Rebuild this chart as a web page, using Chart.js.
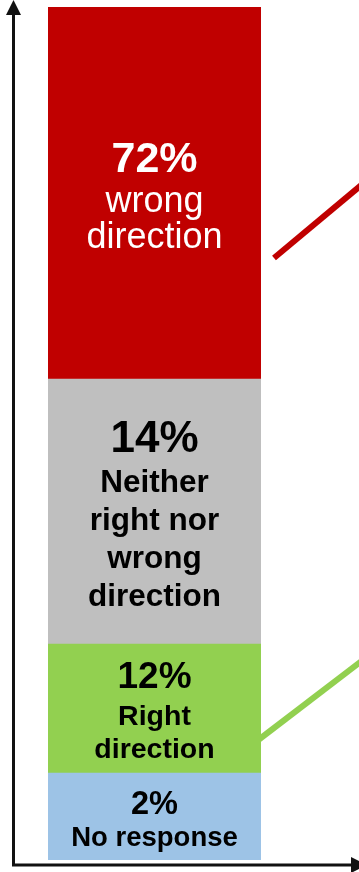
<!DOCTYPE html>
<html>
<head>
<meta charset="utf-8">
<script src="https://cdn.jsdelivr.net/npm/chart.js@4.4.1/dist/chart.umd.min.js"></script>
<style>
  html, body { margin: 0; padding: 0; background: #fff; }
  #wrap { position: relative; width: 359px; height: 872px; }
</style>
</head>
<body>
<div id="wrap"><canvas id="direction-chart"></canvas></div>
<script>
// Direction-of-the-country poll, one stacked column (bottom to top)
const responses = ['No response', 'Right direction', 'Neither right nor wrong direction', 'Wrong direction'];
const shares = [2, 12, 14, 72];
const captions = [
  ['No response'],
  ['Right', 'direction'],
  ['Neither', 'right nor', 'wrong', 'direction'],
  ['wrong', 'direction']
];

const FONT = '"Liberation Sans", Arial, sans-serif';
const fills = ['#9DC3E6', '#92D050', '#BFBFBF', '#C00000'];
// pct/cap = font sizes, gap = pct baseline to first caption baseline, lead = caption line pitch
const textStyles = [
  { color: '#000', pct: 32.5, cap: 27.5, weight: 'bold', gap: 32, lead: 0 },
  { color: '#000', pct: 37, cap: 28.5, weight: 'bold', gap: 36.5, lead: 33.5 },
  { color: '#000', pct: 44, cap: 31.5, weight: 'bold', gap: 39.5, lead: 38 },
  { color: '#fff', pct: 43, cap: 36, weight: 'normal', gap: 40.5, lead: 36 }
];

// Linear scale with uneven spacing: each stop value maps to a set fraction of the axis
class SegmentedScale extends Chart.LinearScale {
  getPixelForValue(value) {
    const stops = this.options.stops, fr = this.options.fractions;
    let f = 0;
    for (let i = 1; i < stops.length; i++) {
      if (value <= stops[i] || i === stops.length - 1) {
        const t = (value - stops[i - 1]) / (stops[i] - stops[i - 1]);
        f = fr[i - 1] + t * (fr[i] - fr[i - 1]);
        break;
      }
    }
    return this.getPixelForDecimal(f);
  }
  getValueForPixel(pixel) {
    const d = this.getDecimalForPixel(pixel);
    const stops = this.options.stops, fr = this.options.fractions;
    for (let i = 1; i < fr.length; i++) {
      if (d <= fr[i] || i === fr.length - 1) {
        const t = (d - fr[i - 1]) / (fr[i] - fr[i - 1]);
        return stops[i - 1] + t * (stops[i] - stops[i - 1]);
      }
    }
    return 0;
  }
}
SegmentedScale.id = 'segmented';
SegmentedScale.defaults = Chart.LinearScale.defaults;
Chart.register(SegmentedScale);

// Arrowed axes and the connector strokes leading off to the right
const decorations = {
  id: 'decorations',
  beforeDatasetsDraw(chart) {
    const ctx = chart.ctx;
    ctx.save();
    ctx.lineCap = 'butt';
    ctx.lineWidth = 6;
    ctx.strokeStyle = '#C00000';
    ctx.beginPath();
    ctx.moveTo(274, 258);
    ctx.lineTo(274 + 130, 258 - 130 * 0.835);
    ctx.stroke();
    ctx.strokeStyle = '#92D050';
    ctx.beginPath();
    ctx.moveTo(255, 742.5);
    ctx.lineTo(255 + 150, 742.5 - 150 * 0.765);
    ctx.stroke();
    ctx.restore();
  },
  afterDraw(chart) {
    const ctx = chart.ctx;
    ctx.save();
    ctx.strokeStyle = '#111';
    ctx.fillStyle = '#111';
    ctx.lineWidth = 3;
    ctx.beginPath();
    ctx.moveTo(13.5, 866.5);
    ctx.lineTo(13.5, 12);
    ctx.moveTo(12, 865);
    ctx.lineTo(352, 865);
    ctx.stroke();
    ctx.beginPath();
    ctx.moveTo(13.5, 0);
    ctx.lineTo(6, 15);
    ctx.lineTo(21, 15);
    ctx.closePath();
    ctx.fill();
    ctx.beginPath();
    ctx.moveTo(367, 865);
    ctx.lineTo(351, 857);
    ctx.lineTo(351, 873);
    ctx.closePath();
    ctx.fill();
    ctx.restore();
  }
};

// Percentage plus caption centred inside each segment
const segmentText = {
  id: 'segmentText',
  afterDatasetsDraw(chart) {
    const ctx = chart.ctx;
    chart.data.datasets.forEach((ds, i) => {
      const bar = chart.getDatasetMeta(i).data[0];
      const st = textStyles[i];
      const lines = captions[i];
      const digitH = st.pct * 0.716;
      const span = digitH + st.gap + st.lead * (lines.length - 1);
      let y = (bar.y + bar.base) / 2 + 1.5 - span / 2 + digitH;
      ctx.save();
      ctx.fillStyle = st.color;
      ctx.textAlign = 'center';
      ctx.textBaseline = 'alphabetic';
      ctx.font = 'bold ' + st.pct + 'px ' + FONT;
      ctx.fillText(shares[i] + '%', bar.x, y);
      y += st.gap;
      ctx.font = st.weight + ' ' + st.cap + 'px ' + FONT;
      lines.forEach(l => { ctx.fillText(l, bar.x, y); y += st.lead; });
      ctx.restore();
    });
  }
};

new Chart(document.getElementById('direction-chart'), {
  type: 'bar',
  data: {
    labels: [''],
    datasets: responses.map((r, i) => ({
      label: r,
      data: [shares[i]],
      backgroundColor: fills[i],
      borderWidth: 0,
      barPercentage: 1,
      categoryPercentage: 1
    }))
  },
  options: {
    responsive: true,
    maintainAspectRatio: false,
    animation: false,
    layout: { padding: { left: 48, right: 98, top: 7, bottom: 12 } },
    plugins: { legend: { display: false }, tooltip: { enabled: false } },
    scales: {
      x: { stacked: true, display: false },
      y: {
        type: 'segmented',
        stacked: true,
        display: false,
        min: 0,
        max: 100,
        stops: [0, 2, 14, 28, 100],
        fractions: [0, 0.102, 0.2532, 0.5639, 1]
      }
    }
  },
  plugins: [decorations, segmentText]
});
</script>
</body>
</html>
